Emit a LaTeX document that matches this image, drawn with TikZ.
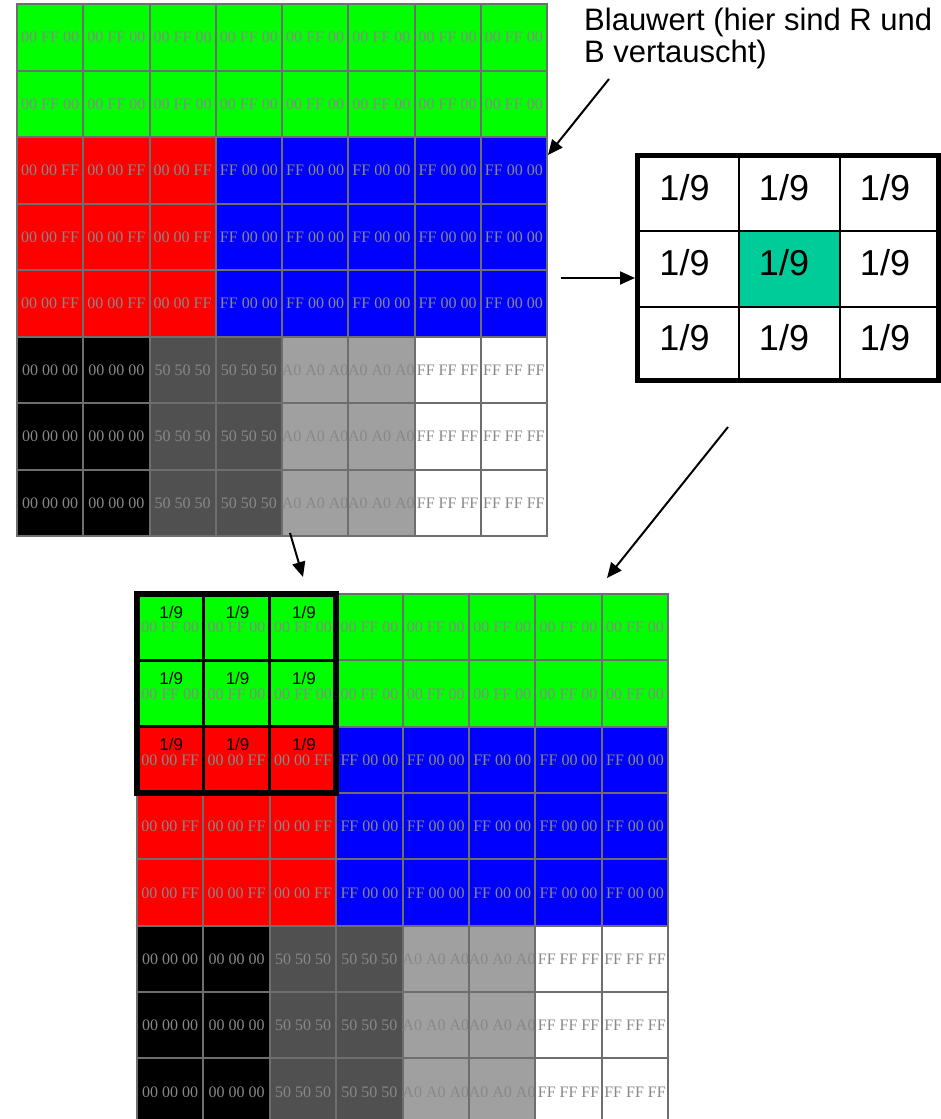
\documentclass[tikz,border=0pt]{standalone}
\usepackage{fontspec}
\setmainfont{Liberation Sans}
\newfontfamily\hexfont{Liberation Serif}
\usetikzlibrary{arrows.meta}
\definecolor{gridline}{RGB}{110,110,110}
\definecolor{hextxt}{RGB}{136,136,136}
\definecolor{dgray}{RGB}{80,80,80}
\definecolor{lgray}{RGB}{160,160,160}
\definecolor{kteal}{RGB}{0,204,153}
\newcommand\setcell[2]{%
 \ifnum#1<2 \def\cfill{green}\def\ctext{00 FF 00}%
 \else\ifnum#1<5
   \ifnum#2<3 \def\cfill{red}\def\ctext{00 00 FF}%
   \else \def\cfill{blue}\def\ctext{FF 00 00}\fi
 \else
   \ifcase#2 \def\cfill{black}\def\ctext{00 00 00}%
   \or \def\cfill{black}\def\ctext{00 00 00}%
   \or \def\cfill{dgray}\def\ctext{50 50 50}%
   \or \def\cfill{dgray}\def\ctext{50 50 50}%
   \or \def\cfill{lgray}\def\ctext{A0 A0 A0}%
   \or \def\cfill{lgray}\def\ctext{A0 A0 A0}%
   \else \def\cfill{white}\def\ctext{FF FF FF}%
   \fi
 \fi\fi}
\newcommand\drawgrid[5]{%
 \foreach \r in {0,...,7}{%
  \foreach \c in {0,...,7}{%
    \setcell{\r}{\c}%
    \filldraw[fill=\cfill, gridcell] ({#2+\c*#4},{#3+\r*#5}) rectangle ++(#4,#5);
    \node[hextext] (#1-\r-\c) at ({#2+(\c+0.5)*#4},{#3+(\r+0.5)*#5+0.5}) {\ctext};
  }}}
\tikzset{
 gridcell/.style={draw=gridline, line width=2pt},
 hextext/.style={font=\hexfont\fontsize{16}{16}\selectfont, text=hextxt, inner sep=0pt},
 kerntext/.style={font=\fontsize{36}{36}\selectfont, inner sep=0pt, anchor=base},
 smallk/.style={font=\fontsize{17}{17}\selectfont, inner sep=0pt, anchor=base},
 labeltext/.style={font=\fontsize{31}{34}\selectfont, inner sep=0pt, anchor=base west},
 conn/.style={line width=2pt, -{Triangle[length=15pt,width=13pt]}},
 thickbox/.style={line width=6pt},
 thinbox/.style={line width=3pt}
}
\begin{document}
\begin{tikzpicture}[x=1pt,y=-1pt]
\useasboundingbox (0,0) rectangle (941,1119);
\begin{scope}
\clip (0,0) rectangle (941,1119);
% top image
\drawgrid{top}{17}{4}{66.25}{66.5}
% bottom image
\drawgrid{bot}{137}{594}{66.4}{66.3}
% 3x3 overlay on bottom image
\foreach \i in {1,2}{
  \draw[thinbox] ({137+\i*66.4},594) -- ({137+\i*66.4},{594+3*66.3});
  \draw[thinbox] (137,{594+\i*66.3}) -- ({137+3*66.4},{594+\i*66.3});
}
\draw[thickbox] (137,594) rectangle ({137+3*66.4},{594+3*66.3});
\foreach \r in {0,1,2}{
  \foreach \c in {0,1,2}{
    \node[smallk] (ov-\r-\c) at ({137+(\c+0.5)*66.4+1},{594+\r*66.3+24}) {1/9};
  }}
\end{scope}
% kernel
\fill[kteal] (739,231) rectangle (840,307);
\draw[line width=2.5pt] (739,155.5) -- (739,380.5);
\draw[line width=2.5pt] (840,155.5) -- (840,380.5);
\draw[line width=2.5pt] (637.5,231) -- (938.5,231);
\draw[line width=2.5pt] (637.5,307) -- (938.5,307);
\draw[line width=5pt] (637.5,155.5) rectangle (938.5,380.5);
\foreach \y [count=\r from 0] in {200,275,350}{
  \foreach \x [count=\c from 0] in {684.5,784,885}{
    \node[kerntext] (k-\r-\c) at (\x,\y) {1/9};
  }}
% label
\node[labeltext] (lbl1) at (584,30) {Blauwert (hier sind R und};
\node[labeltext] (lbl2) at (584,62) {B vertauscht)};
% connectors
\coordinate (a1s) at (609,79);
\coordinate (a1e) at (548,155);
\coordinate (a2s) at (561,278);
\coordinate (a2e) at (635,278);
\coordinate (a3s) at (728,427);
\coordinate (a3e) at (607,578);
\coordinate (a4s) at (290,533);
\coordinate (a4e) at (303,577);
\draw[conn] (a1s) -- (a1e);
\draw[conn] (a2s) -- (a2e);
\draw[conn] (a3s) -- (a3e);
\draw[conn] (a4s) -- (a4e);
\end{tikzpicture}
\end{document}
